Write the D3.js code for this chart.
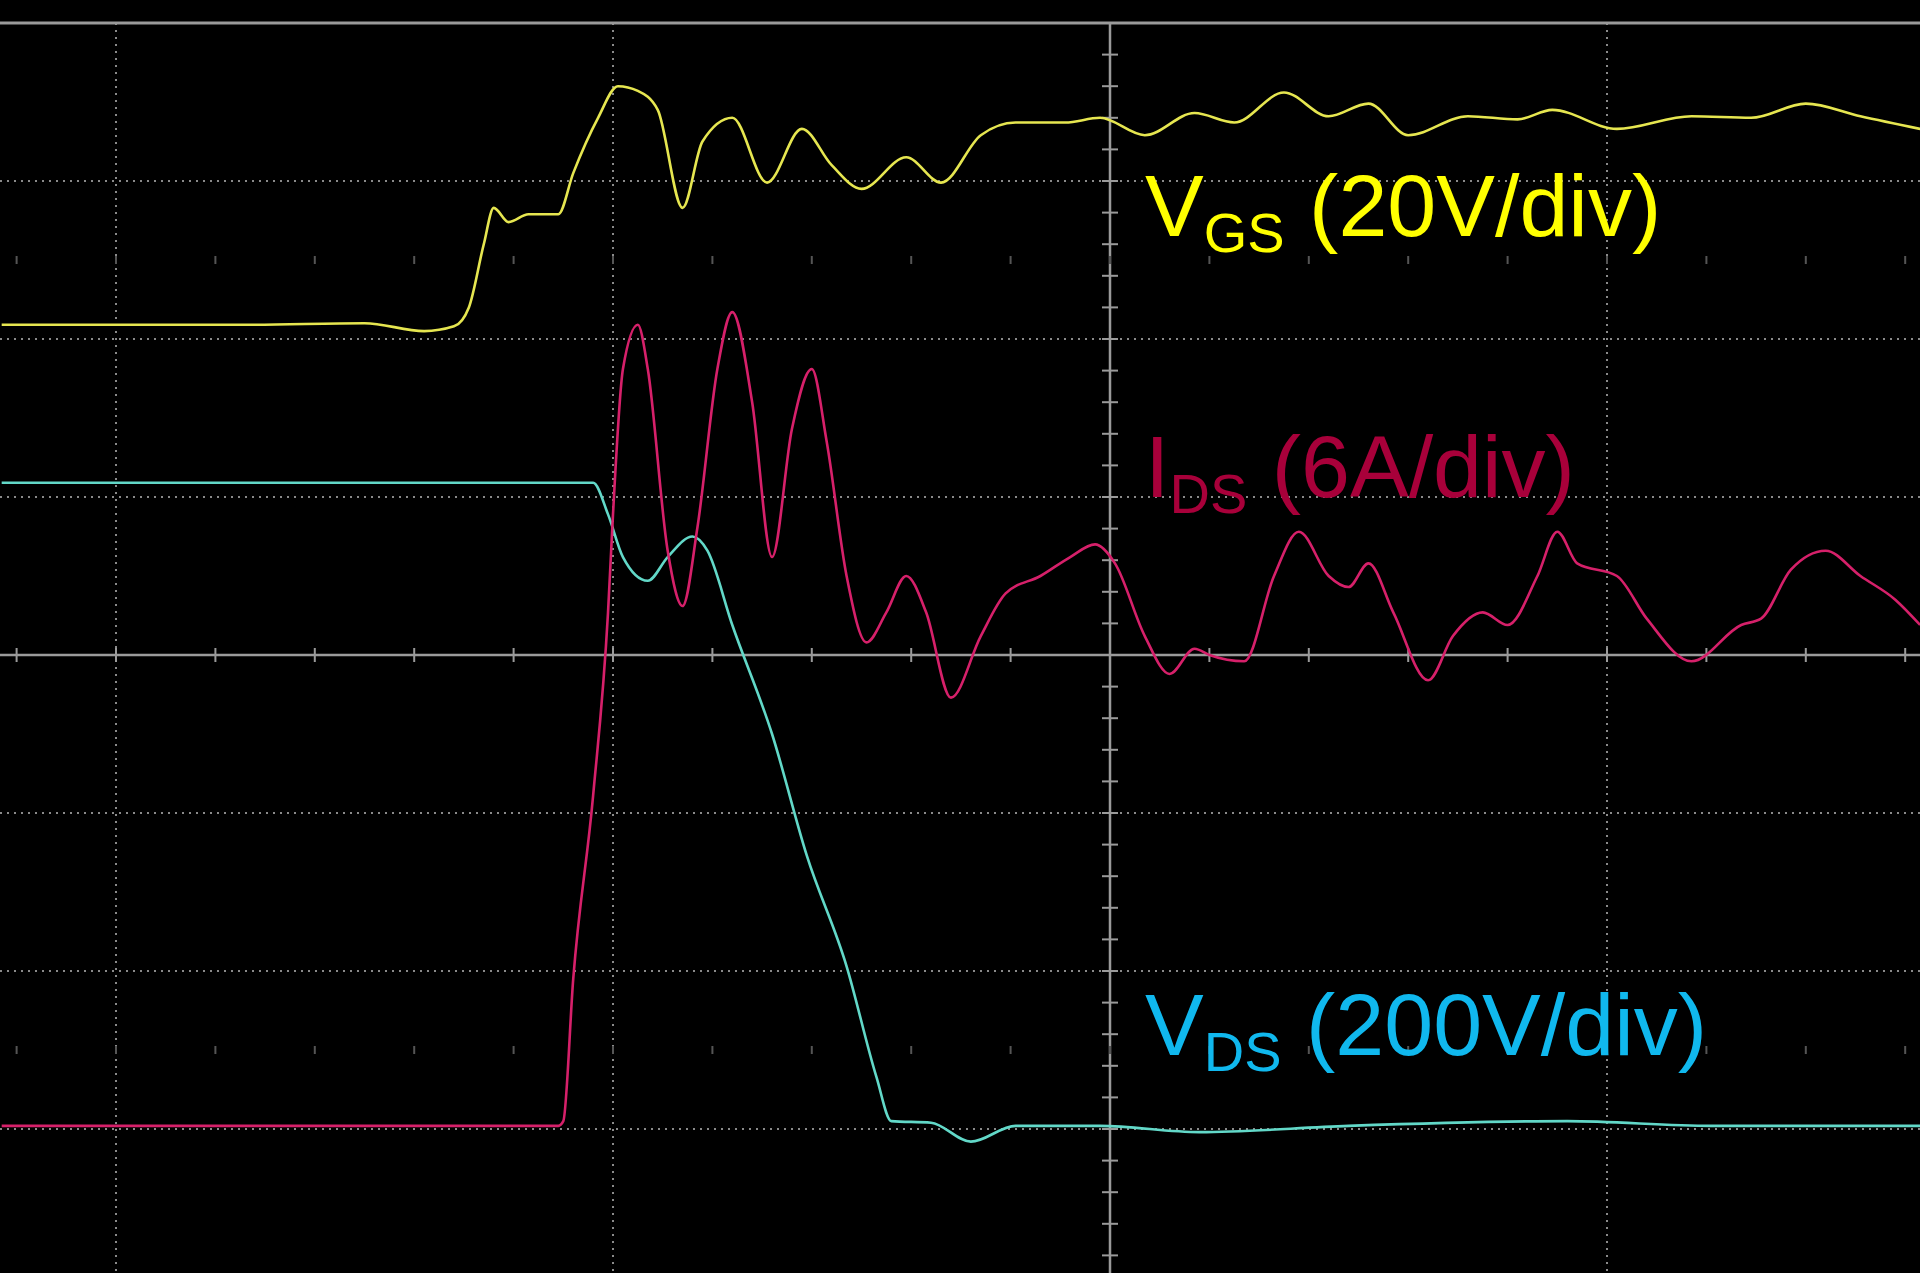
<!DOCTYPE html>
<html><head><meta charset="utf-8">
<script src="https://cdn.jsdelivr.net/npm/d3@7"></script>
<style>html,body{margin:0;background:#000;overflow:hidden}</style>
</head><body>
<svg id="scope" width="1920" height="1273"></svg>
<script>
// time and amplitude in scope divisions (0 = screen centre)
var vgsT = [-2.23,-1.99,-1.74,-1.50,-1.38,-1.32,-1.29,-1.26,-1.24,-1.21,-1.17,-1.11,-1.08,-1.03,-0.99,-0.95,-0.91,-0.86,-0.82,-0.76,-0.69,-0.62,-0.56,-0.50,-0.41,-0.34,-0.26,-0.19,-0.09,-0.02,0.07,0.17,0.25,0.35,0.44,0.52,0.60,0.72,0.82,0.89,1.02,1.17,1.29,1.40,1.51,1.63];
var vgsV = [2.09,2.09,2.09,2.10,2.05,2.08,2.20,2.60,2.83,2.74,2.79,2.79,3.05,3.40,3.60,3.57,3.45,2.83,3.25,3.40,2.99,3.33,3.10,2.95,3.15,2.99,3.29,3.37,3.37,3.40,3.29,3.43,3.37,3.56,3.41,3.49,3.29,3.41,3.39,3.45,3.33,3.41,3.40,3.49,3.41,3.33];

var idsT = [-2.23,-1.74,-1.11,-1.10,-1.08,-1.04,-1.01,-1.00,-0.98,-0.95,-0.93,-0.89,-0.86,-0.83,-0.79,-0.76,-0.72,-0.68,-0.64,-0.60,-0.57,-0.53,-0.49,-0.45,-0.41,-0.37,-0.32,-0.26,-0.21,-0.14,-0.08,-0.03,0.01,0.07,0.12,0.17,0.20,0.27,0.33,0.38,0.44,0.48,0.52,0.57,0.64,0.69,0.75,0.80,0.86,0.90,0.94,1.02,1.08,1.17,1.27,1.31,1.37,1.44,1.51,1.58,1.63];
var idsV = [-2.98,-2.98,-2.98,-2.95,-2.05,-0.89,0.27,0.89,1.81,2.09,1.81,0.66,0.31,0.81,1.81,2.17,1.60,0.62,1.43,1.81,1.35,0.50,0.08,0.27,0.50,0.27,-0.27,0.12,0.39,0.50,0.62,0.70,0.58,0.12,-0.12,0.04,0.00,-0.04,0.50,0.78,0.50,0.43,0.58,0.27,-0.16,0.12,0.27,0.19,0.50,0.78,0.58,0.50,0.23,-0.04,0.19,0.23,0.54,0.66,0.50,0.35,0.19];

var vdsT = [-2.23,-1.04,-1.01,-0.98,-0.93,-0.89,-0.84,-0.81,-0.76,-0.68,-0.61,-0.53,-0.47,-0.44,-0.36,-0.28,-0.19,-0.02,0.18,0.48,0.92,1.21,1.63];
var vdsV = [1.09,1.09,0.89,0.62,0.47,0.62,0.75,0.66,0.19,-0.50,-1.27,-1.97,-2.67,-2.95,-2.96,-3.08,-2.98,-2.98,-3.02,-2.98,-2.95,-2.98,-2.98];

var gridT = [-2, -1, 0, 1];
var gridV = [-3, -2, -1, 0, 1, 2, 3, 4];

var svg = d3.select('#scope');
var x = d3.scaleLinear().domain([0, 1]).range([1110, 1607]);
var y = d3.scaleLinear().domain([0, 1]).range([655, 497]);

// graticule
var g = svg.append('g');
g.selectAll('.vl').data(gridT.filter(function(d){return d !== 0;})).enter().append('line')
  .attr('x1', x).attr('x2', x).attr('y1', y(4)).attr('y2', 1273)
  .attr('stroke', '#8a8a8a').attr('stroke-width', 2).attr('stroke-dasharray', '2,5');
g.selectAll('.hl').data(gridV.filter(function(d){return d !== 0 && d !== 4;})).enter().append('line')
  .attr('y1', y).attr('y2', y).attr('x1', 0).attr('x2', 1920)
  .attr('stroke', '#8a8a8a').attr('stroke-width', 2).attr('stroke-dasharray', '2,5');
g.append('line').attr('x1', 0).attr('x2', 1920).attr('y1', y(4)).attr('y2', y(4))
  .attr('stroke', '#9a9a9a').attr('stroke-width', 3);
g.append('line').attr('x1', 0).attr('x2', 1920).attr('y1', y(0)).attr('y2', y(0))
  .attr('stroke', '#9a9a9a').attr('stroke-width', 2.5);
g.append('line').attr('x1', x(0)).attr('x2', x(0)).attr('y1', y(4)).attr('y2', 1273)
  .attr('stroke', '#9a9a9a').attr('stroke-width', 2.5);

// minor ticks on the centre axes
var tMinor = d3.range(-11, 9).map(function(i){return i / 5;});
g.selectAll('.tx').data(tMinor).enter().append('line')
  .attr('x1', x).attr('x2', x).attr('y1', y(0) - 7).attr('y2', y(0) + 7)
  .attr('stroke', '#9a9a9a').attr('stroke-width', 2);
var vMinor = d3.range(-19, 21).map(function(i){return i / 5;});
g.selectAll('.ty').data(vMinor).enter().append('line')
  .attr('y1', y).attr('y2', y).attr('x1', x(0) - 8).attr('x2', x(0) + 8)
  .attr('stroke', '#9a9a9a').attr('stroke-width', 2);
// faint dot rows mid way between gridlines
[-2.5, 2.5].forEach(function(v) {
  g.selectAll(null).data(tMinor).enter().append('line')
    .attr('x1', x).attr('x2', x).attr('y1', y(v) - 4).attr('y2', y(v) + 4)
    .attr('stroke', '#555').attr('stroke-width', 2);
});

var line = d3.line().x(function(d){return x(d[0]);}).y(function(d){return y(d[1]);})
  .curve(d3.curveMonotoneX);
function trace(t, v, col) {
  svg.append('path').datum(d3.zip(t, v)).attr('d', line)
    .attr('fill', 'none').attr('stroke', col).attr('stroke-width', 2.6);
}
trace(vgsT, vgsV, '#e6e650');
trace(vdsT, vdsV, '#62d8c8');
trace(idsT, idsV, '#d6206a');

// labels
function label(yb, main, sub, rest, col) {
  var t = svg.append('text').attr('x', 1145).attr('y', yb)
    .attr('font-family', 'Liberation Sans, Arial, sans-serif').attr('font-size', 88).attr('fill', col);
  t.append('tspan').text(main);
  t.append('tspan').attr('font-size', 56).attr('dy', 16).text(sub);
  t.append('tspan').attr('dy', -16).text(' ' + rest);
}
label(236, 'V', 'GS', '(20V/div)', '#ffff00');
label(497, 'I', 'DS', '(6A/div)', '#a8003a');
label(1055, 'V', 'DS', '(200V/div)', '#10b8ee');
</script>
</body></html>
